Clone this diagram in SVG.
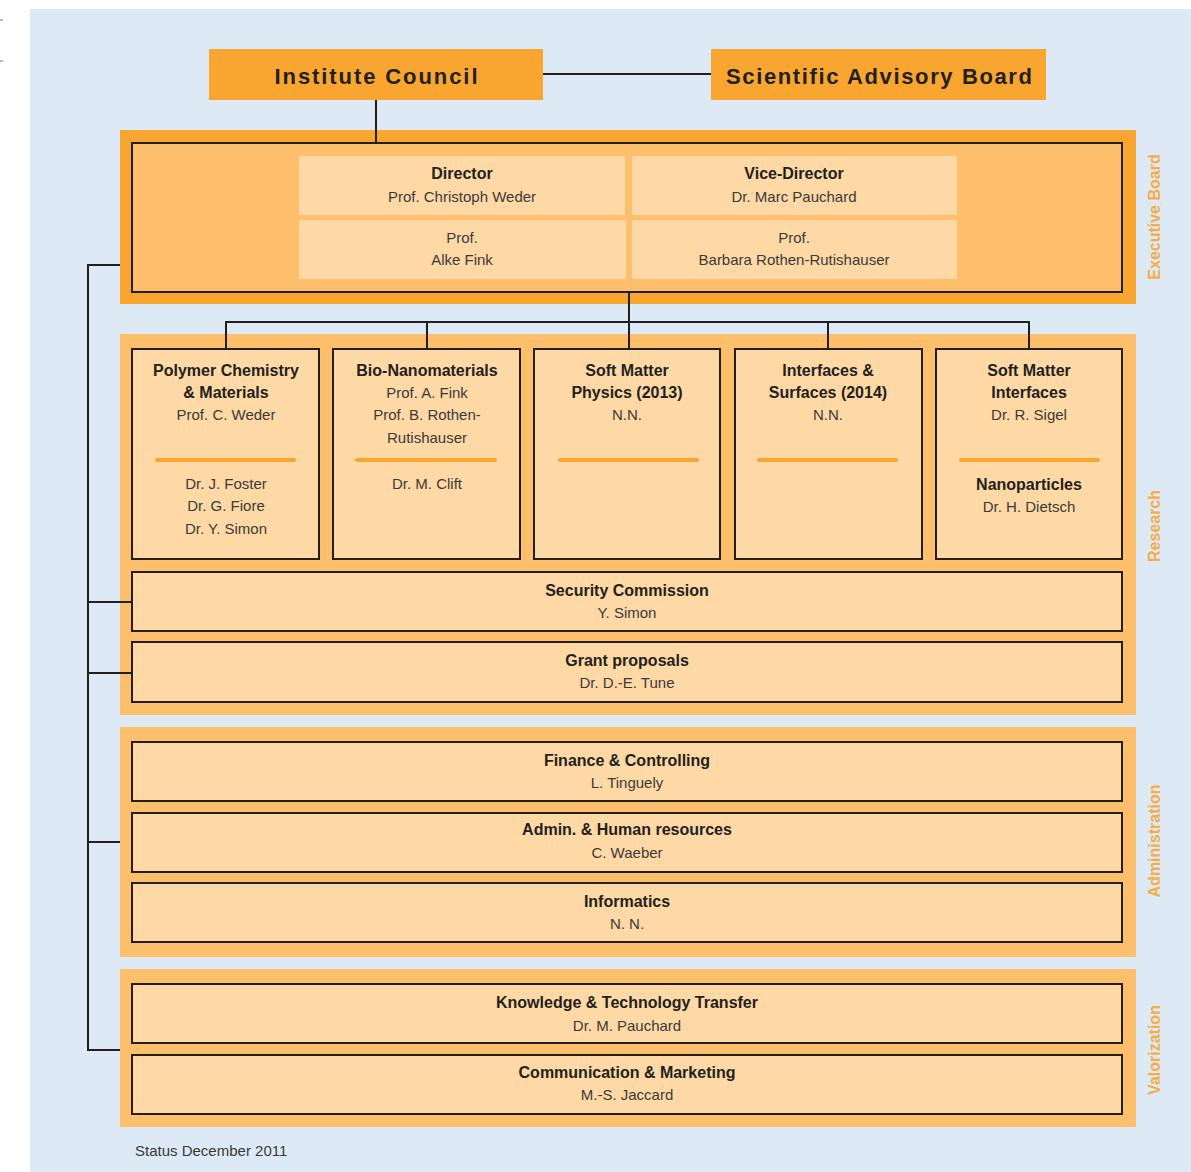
<svg xmlns="http://www.w3.org/2000/svg" width="1191" height="1172" viewBox="0 0 1191 1172">
<style>
.bg{fill:#dde9f5}
.dk{fill:#f8a630}
.lt{fill:#fdbf6b}
.cell{fill:#fed9a5}
.box{fill:#fed9a5;stroke:#231f20;stroke-width:2}
.inner{fill:#fdbf6b;stroke:#231f20;stroke-width:2}
.ln{fill:none;stroke:#231f20;stroke-width:2}
.sep{stroke:#f8a630;stroke-width:4;stroke-linecap:round}
text{font-family:"Liberation Sans",Arial,sans-serif;text-anchor:middle}
.h{font-size:22px;font-weight:bold;fill:#231f20}
.b{font-size:16px;font-weight:bold;fill:#231f20}
.r{font-size:15px;fill:#3a3a3a}
.side{font-size:16px;font-weight:bold;fill:#f6ad45}
.st{font-size:15px;fill:#3a3a3a;text-anchor:start}
.mark{stroke:#777;stroke-width:1}
</style>
<rect x="0" y="0" width="1191" height="1172" fill="#ffffff"/>
<line class="mark" x1="0" y1="20" x2="3" y2="20"/>
<line class="mark" x1="0" y1="61" x2="3" y2="61"/>
<rect class="bg" x="30" y="9" width="1161" height="1163"/>

<!-- panels -->
<rect class="dk" x="120" y="130" width="1016" height="174"/>
<rect class="lt" x="120" y="334" width="1016" height="381"/>
<rect class="lt" x="120" y="727" width="1016" height="230"/>
<rect class="lt" x="120" y="969" width="1016" height="158"/>

<g id="connectors">
<line class="ln" x1="543" y1="74" x2="711" y2="74"/>
<line class="ln" x1="376" y1="100" x2="376" y2="143"/>
<line class="ln" x1="629" y1="292" x2="629" y2="322"/>
<polyline class="ln" points="226,349 226,322 1029,322 1029,349"/>
<line class="ln" x1="427" y1="322" x2="427" y2="349"/>
<line class="ln" x1="629" y1="322" x2="629" y2="349"/>
<line class="ln" x1="828" y1="322" x2="828" y2="349"/>
<polyline class="ln" points="120,265 88,265 88,1050 120,1050"/>
<line class="ln" x1="88" y1="602" x2="132" y2="602"/>
<line class="ln" x1="88" y1="673" x2="132" y2="673"/>
<line class="ln" x1="88" y1="842" x2="120" y2="842"/>
</g>

<g id="institute-council">
<rect class="dk" x="209" y="49" width="334" height="51"/>
<text class="h" x="376" y="84" textLength="203" lengthAdjust="spacing">Institute Council</text>
</g>
<g id="scientific-advisory-board">
<rect class="dk" x="711" y="49" width="335" height="51"/>
<text class="h" x="879" y="84" textLength="306" lengthAdjust="spacing">Scientific Advisory Board</text>
</g>

<g id="executive-board">
<rect class="inner" x="132" y="143" width="990" height="149"/>
<text class="side" transform="translate(1160,217) rotate(-90)">Executive Board</text>
</g>
<g id="director">
<rect class="cell" x="299" y="156" width="326" height="59"/>
<text class="b" x="462" y="179">Director</text>
<text class="r" x="462" y="202">Prof. Christoph Weder</text>
</g>
<g id="vice-director">
<rect class="cell" x="632" y="156" width="325" height="59"/>
<text class="b" x="794" y="179">Vice-Director</text>
<text class="r" x="794" y="202">Dr. Marc Pauchard</text>
</g>
<g id="prof-fink">
<rect class="cell" x="299" y="220" width="327" height="59"/>
<text class="r" x="462" y="243">Prof.</text>
<text class="r" x="462" y="265">Alke Fink</text>
</g>
<g id="prof-rothen">
<rect class="cell" x="632" y="220" width="325" height="59"/>
<text class="r" x="794" y="243">Prof.</text>
<text class="r" x="794" y="265">Barbara Rothen-Rutishauser</text>
</g>

<text class="side" transform="translate(1160,526) rotate(-90)">Research</text>

<g id="polymer-chemistry">
<rect class="box" x="132" y="349" width="187" height="210"/>
<text class="b" x="226" y="376">Polymer Chemistry</text>
<text class="b" x="226" y="398">&amp; Materials</text>
<text class="r" x="226" y="420">Prof. C. Weder</text>
<line class="sep" x1="157" y1="460" x2="294" y2="460"/>
<text class="r" x="226" y="489">Dr. J. Foster</text>
<text class="r" x="226" y="511">Dr. G. Fiore</text>
<text class="r" x="226" y="534">Dr. Y. Simon</text>
</g>
<g id="bio-nanomaterials">
<rect class="box" x="333" y="349" width="187" height="210"/>
<text class="b" x="427" y="376">Bio-Nanomaterials</text>
<text class="r" x="427" y="398">Prof. A. Fink</text>
<text class="r" x="427" y="420">Prof. B. Rothen-</text>
<text class="r" x="427" y="443">Rutishauser</text>
<line class="sep" x1="357" y1="460" x2="495" y2="460"/>
<text class="r" x="427" y="489">Dr. M. Clift</text>
</g>
<g id="soft-matter-physics">
<rect class="box" x="534" y="349" width="186" height="210"/>
<text class="b" x="627" y="376">Soft Matter</text>
<text class="b" x="627" y="398">Physics (2013)</text>
<text class="r" x="627" y="420">N.N.</text>
<line class="sep" x1="560" y1="460" x2="697" y2="460"/>
</g>
<g id="interfaces-surfaces">
<rect class="box" x="735" y="349" width="187" height="210"/>
<text class="b" x="828" y="376">Interfaces &amp;</text>
<text class="b" x="828" y="398">Surfaces (2014)</text>
<text class="r" x="828" y="420">N.N.</text>
<line class="sep" x1="759" y1="460" x2="896" y2="460"/>
</g>
<g id="soft-matter-interfaces">
<rect class="box" x="936" y="349" width="186" height="210"/>
<text class="b" x="1029" y="376">Soft Matter</text>
<text class="b" x="1029" y="398">Interfaces</text>
<text class="r" x="1029" y="420">Dr. R. Sigel</text>
<line class="sep" x1="961" y1="460" x2="1098" y2="460"/>
<text class="b" x="1029" y="490">Nanoparticles</text>
<text class="r" x="1029" y="512">Dr. H. Dietsch</text>
</g>
<g id="security-commission">
<rect class="box" x="132" y="572" width="990" height="59"/>
<text class="b" x="627" y="596">Security Commission</text>
<text class="r" x="627" y="618">Y. Simon</text>
</g>
<g id="grant-proposals">
<rect class="box" x="132" y="642" width="990" height="60"/>
<text class="b" x="627" y="666">Grant proposals</text>
<text class="r" x="627" y="688">Dr. D.-E. Tune</text>
</g>

<text class="side" transform="translate(1160,841) rotate(-90)">Administration</text>
<g id="finance">
<rect class="box" x="132" y="742" width="990" height="59"/>
<text class="b" x="627" y="766">Finance &amp; Controlling</text>
<text class="r" x="627" y="788">L. Tinguely</text>
</g>
<g id="admin-hr">
<rect class="box" x="132" y="813" width="990" height="59"/>
<text class="b" x="627" y="835">Admin. &amp; Human resources</text>
<text class="r" x="627" y="858">C. Waeber</text>
</g>
<g id="informatics">
<rect class="box" x="132" y="883" width="990" height="59"/>
<text class="b" x="627" y="907">Informatics</text>
<text class="r" x="627" y="929">N. N.</text>
</g>

<text class="side" transform="translate(1160,1050) rotate(-90)">Valorization</text>
<g id="knowledge-transfer">
<rect class="box" x="132" y="984" width="990" height="59"/>
<text class="b" x="627" y="1008">Knowledge &amp; Technology Transfer</text>
<text class="r" x="627" y="1031">Dr. M. Pauchard</text>
</g>
<g id="communication">
<rect class="box" x="132" y="1055" width="990" height="59"/>
<text class="b" x="627" y="1078">Communication &amp; Marketing</text>
<text class="r" x="627" y="1100">M.-S. Jaccard</text>
</g>

<text class="st" x="135" y="1156">Status December 2011</text>
</svg>
